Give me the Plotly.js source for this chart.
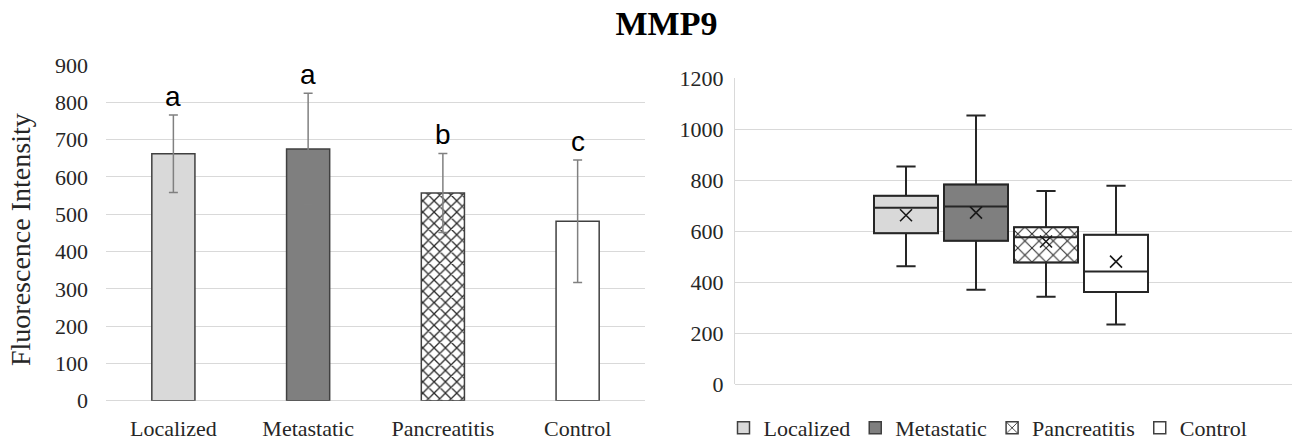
<!DOCTYPE html>
<html>
<head>
<meta charset="utf-8">
<script src="https://cdn.plot.ly/plotly-3.0.1.min.js"></script>
<style>html,body{margin:0;padding:0;background:#fff;}#chart{width:1292px;height:441px;}</style>
</head>
<body>
<div id="chart"></div>
<script>
// ---- data ----
const categories = ['Localized', 'Metastatic', 'Pancreatitis', 'Control'];
// left panel: mean fluorescence intensity with error bars
const meanValues = [662, 675, 557, 481];
const errValues = [104, 149, 106, 164];
const sigLetters = ['a', 'a', 'b', 'c'];
// right panel: box plot statistics
const boxLower = [463, 371, 343, 235];
const boxQ1 = [592, 563, 478, 362];
const boxMedian = [692, 697, 577, 442];
const boxQ3 = [739, 784, 616, 586];
const boxUpper = [854, 1054, 758, 779];
const boxMean = [663, 673, 560, 481];
const leftTicks = [0, 100, 200, 300, 400, 500, 600, 700, 800, 900];
const rightTicks = [0, 200, 400, 600, 800, 1000, 1200];

// ---- styles ----
const serif = 'Liberation Serif, Times New Roman, serif';
const sans = 'Liberation Sans, Arial, sans-serif';
const fills = ['#d9d9d9', '#7f7f7f', '#ffffff', '#ffffff'];
const patterns = ['', '', 'x', ''];
const grid = '#d9d9d9';
const W = 1292, H = 441;

const traces = [];

// Left bar chart (one trace per group so each keeps its own fill)
categories.forEach((c, i) => {
  const m = {color: fills[i], line: {color: '#404040', width: 1.5}};
  if (patterns[i]) m.pattern = {shape: patterns[i], size: 8, solidity: 0.3, fgcolor: '#2a2a2a', bgcolor: '#ffffff', fillmode: 'replace'};
  traces.push({
    type: 'bar', x: [c], y: [meanValues[i]], xaxis: 'x', yaxis: 'y', width: 0.32,
    showlegend: false, hoverinfo: 'skip', marker: m,
    error_y: {type: 'data', array: [errValues[i]], visible: true, color: '#808080', thickness: 1.5, width: 4.5}
  });
});

// Right box chart: filled boxes (bars from Q1 to Q3) carry the legend
categories.forEach((c, i) => {
  const m = {color: fills[i], line: {color: '#404040', width: 1.5}};
  if (patterns[i]) m.pattern = {shape: patterns[i], size: 10, solidity: 0.2, fgcolor: '#2a2a2a', bgcolor: '#ffffff', fillmode: 'replace'};
  traces.push({
    type: 'bar', x: [c], y: [boxQ3[i] - boxQ1[i]], base: [boxQ1[i]],
    xaxis: 'x2', yaxis: 'y2', width: 0.914, name: c, showlegend: true,
    hoverinfo: 'skip', marker: m
  });
});
categories.forEach((c, i) => {
  traces.push({
    type: 'box', x: [c], q1: [boxQ1[i]], median: [boxMedian[i]], q3: [boxQ3[i]],
    lowerfence: [boxLower[i]], upperfence: [boxUpper[i]],
    xaxis: 'x2', yaxis: 'y2', width: 0.914, whiskerwidth: 0.3,
    fillcolor: 'rgba(0,0,0,0)', line: {color: '#262626', width: 2},
    showlegend: false, boxpoints: false, hoverinfo: 'skip'
  });
});
// mean markers
traces.push({
  type: 'scatter', mode: 'markers', x: categories, y: boxMean, xaxis: 'x2', yaxis: 'y2',
  showlegend: false, hoverinfo: 'skip',
  marker: {symbol: 'x-thin-open', size: 12, color: '#1a1a1a', line: {width: 1.6, color: '#1a1a1a'}}
});

const annotations = categories.map((c, i) => ({
  xref: 'x', yref: 'y', x: c, y: meanValues[i] + errValues[i],
  text: sigLetters[i], showarrow: false, yanchor: 'bottom', yshift: 1,
  font: {family: sans, size: 28, color: '#000'}
}));
annotations.push({
  xref: 'paper', yref: 'paper', x: 20 / W, y: 1 - 240 / H, xanchor: 'center', yanchor: 'middle',
  text: 'Fluorescence Intensity', textangle: -90, showarrow: false,
  font: {family: serif, size: 28, color: '#262626'}
});

const layout = {
  width: W, height: H,
  margin: {l: 0, r: 0, t: 0, b: 0, autoexpand: false},
  paper_bgcolor: '#ffffff', plot_bgcolor: '#ffffff',
  title: {text: '<b>MMP9</b>', x: 666.5 / W, xanchor: 'center', y: 1 - 23 / H, yanchor: 'middle',
          font: {family: serif, size: 34, color: '#000'}},
  barmode: 'overlay', boxmode: 'overlay',
  showlegend: true,
  legend: {orientation: 'h', x: 988 / W, xanchor: 'center', y: 1 - 428 / H, yanchor: 'middle',
           font: {family: serif, size: 22, color: '#262626'}, itemwidth: 30, bgcolor: 'rgba(0,0,0,0)',
           traceorder: 'normal'},
  xaxis: {domain: [106 / W, 645 / W], type: 'category', categoryorder: 'array', categoryarray: categories,
          range: [-0.5, 3.5], showgrid: false, zeroline: false, showline: false, ticks: '',
          tickfont: {family: serif, size: 22, color: '#262626'}, ticklabelstandoff: 12, fixedrange: true},
  yaxis: {domain: [(H - 400.7) / H, (H - 65) / H], range: [0, 900], tickvals: leftTicks,
          showgrid: true, gridcolor: grid, gridwidth: 1, zeroline: true, zerolinecolor: grid, zerolinewidth: 1,
          showline: false, ticks: '', tickfont: {family: serif, size: 22, color: '#262626'},
          ticklabelstandoff: 17, fixedrange: true},
  xaxis2: {domain: [735 / W, 1], type: 'category', categoryorder: 'array', categoryarray: categories,
           range: [-2.443, 5.514], showgrid: false, zeroline: false, showline: false, showticklabels: false,
           ticks: '', anchor: 'y2', fixedrange: true},
  yaxis2: {domain: [(H - 384.3) / H, (H - 78.3) / H], range: [0, 1200], tickvals: rightTicks, anchor: 'x2',
           showgrid: true, gridcolor: grid, gridwidth: 1, zeroline: true, zerolinecolor: grid, zerolinewidth: 1,
           showline: true, linecolor: grid, linewidth: 1, ticks: '',
           tickfont: {family: serif, size: 22, color: '#262626'}, ticklabelstandoff: 6, fixedrange: true},
  annotations: annotations
};

Plotly.newPlot('chart', traces, layout, {staticPlot: true, displayModeBar: false});
</script>
</body>
</html>
